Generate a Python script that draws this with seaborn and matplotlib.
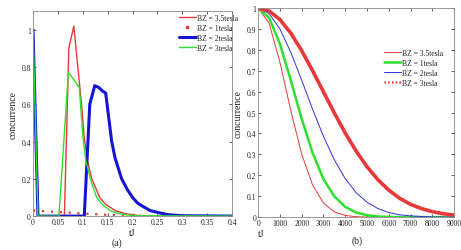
import numpy as np
import pandas as pd
import matplotlib
matplotlib.use("Agg")
import matplotlib.pyplot as plt
from matplotlib.lines import Line2D
import seaborn as sns

# ================================
# data
# ================================

# panel (a)
t_a_35 = [0, 0.01, 0.063, 0.072, 0.082, 0.09, 0.0975, 0.103, 0.109, 0.118, 0.134, 0.145, 0.165, 0.185, 0.21, 0.23, 0.4]
c_a_35 = [1.0, 0, 0, 0.9, 1.02, 0.8, 0.6, 0.42, 0.3, 0.2, 0.1, 0.065, 0.03, 0.013, 0.004, 0, 0]

t_a_1 = [0, 0.05, 0.1, 0.15, 0.2, 0.25, 0.4]
c_a_1 = [0.03, 0.022, 0.014, 0.007, 0.002, 0, 0]

t_a_2 = [0, 0.01, 0.103, 0.114, 0.124, 0.132, 0.14, 0.146, 0.152, 0.158, 0.165, 0.178, 0.19, 0.2, 0.21, 0.222, 0.235, 0.25, 0.27, 0.3, 0.4]
c_a_2 = [1.0, 0, 0, 0.6, 0.7, 0.69, 0.67, 0.66, 0.53, 0.4, 0.31, 0.2, 0.14, 0.1, 0.07, 0.05, 0.03, 0.02, 0.008, 0.002, 0]

t_a_3 = [0, 0.01, 0.052, 0.071, 0.08, 0.093, 0.1, 0.106, 0.115, 0.128, 0.14, 0.155, 0.17, 0.19, 0.21, 0.4]
c_a_3 = [1.0, 0, 0, 0.77, 0.74, 0.69, 0.43, 0.3, 0.2, 0.1, 0.06, 0.03, 0.015, 0.006, 0.002, 0]

# panel (b)
t_b = [0, 500, 1000, 1500, 2000, 2500, 3000, 3500, 4000, 4500, 5000, 5500, 6000, 6500, 7000, 7500, 8000, 8500, 9000]
c_b_35 = [1.0, 0.928, 0.741, 0.509, 0.301, 0.153, 0.067, 0.025, 0.008, 0.002, 0.0005, 0, 0, 0, 0, 0, 0, 0, 0]
c_b_1 = [1.0, 0.954, 0.828, 0.654, 0.470, 0.307, 0.182, 0.099, 0.049, 0.022, 0.009, 0.003, 0.001, 0, 0, 0, 0, 0, 0]
c_b_2 = [1.0, 0.974, 0.900, 0.788, 0.655, 0.516, 0.386, 0.274, 0.184, 0.117, 0.071, 0.041, 0.022, 0.011, 0.006, 0.003, 0.001, 0, 0]
c_b_3 = [1.0, 0.986, 0.945, 0.880, 0.796, 0.700, 0.599, 0.498, 0.402, 0.316, 0.241, 0.179, 0.129, 0.090, 0.061, 0.041, 0.026, 0.016, 0.010]

labels = ["BZ = 3.5tesla", "BZ = 1tesla", "BZ = 2tesla", "BZ = 3tesla"]

RED = "#e8383a"
GREEN = "#2ee02e"
BLUE = "#1414d2"

sns.set_style("ticks")
plt.rcParams["font.family"] = ["Liberation Serif", "DejaVu Serif"]

fig = plt.figure(figsize=(4.61, 2.51), dpi=100)
ax1 = fig.add_axes([0.0716, 0.135, 0.432, 0.817])
ax2 = fig.add_axes([0.560, 0.131, 0.425, 0.833])

# ---- panel (a)
sns.lineplot(x=t_a_35, y=c_a_35, ax=ax1, color=RED, lw=1.0, label=labels[0])
sns.lineplot(x=t_a_1, y=c_a_1, ax=ax1, color=RED, lw=1.6, ls=(0, (1, 3)), label=labels[1])
sns.lineplot(x=t_a_2, y=c_a_2, ax=ax1, color=BLUE, lw=2.2, label=labels[2])
sns.lineplot(x=t_a_3, y=c_a_3, ax=ax1, color=GREEN, lw=1.0, label=labels[3])

ax1.set_xlim(0, 0.4)
ax1.set_ylim(0, 1.1)
ax1.set_xticks(np.arange(0, 0.401, 0.05))
ax1.set_xticklabels(["0", "0.05", "0.1", "0.15", "0.2", "0.25", "0.3", "0.35", "0.4"])
ax1.set_yticks([0, 0.2, 0.4, 0.6, 0.8, 1.0])
ax1.set_yticklabels(["0", "0.2", "0.4", "0.6", "0.8", "1"])
ax1.set_xlabel("tJ", fontsize=7, labelpad=1)
ax1.set_ylabel("concurrence", fontsize=7, labelpad=3)

# the 1 tesla entry shows as a single dot
h1, l1 = ax1.get_legend_handles_labels()
h1[1] = Line2D([], [], color=RED, marker="o", ms=1.6, ls="none")
ax1.legend(h1, l1, loc="upper left", bbox_to_anchor=(179 / 461, 1 - 15 / 251), bbox_transform=fig.transFigure,
           frameon=False, fontsize=5.5, handlelength=2.2, handletextpad=0.1, labelspacing=0.25,
           borderpad=0, borderaxespad=0, numpoints=1)

# ---- panel (b)
sns.lineplot(x=t_b, y=c_b_35, ax=ax2, color=RED, lw=0.7, label=labels[0])
sns.lineplot(x=t_b, y=c_b_1, ax=ax2, color=GREEN, lw=1.8, label=labels[1])
sns.lineplot(x=t_b, y=c_b_2, ax=ax2, color="#3030d8", lw=0.7, label=labels[2])
sns.lineplot(x=t_b, y=c_b_3, ax=ax2, color=RED, lw=2.6, label=labels[3])

ax2.set_xlim(0, 9000)
ax2.set_ylim(0, 1)
ax2.set_xticks(np.arange(0, 9001, 1000))
ax2.set_yticks(np.arange(0, 1.01, 0.1))
ax2.set_yticklabels(["0", "0.1", "0.2", "0.3", "0.4", "0.5", "0.6", "0.7", "0.8", "0.9", "1"])
ax2.set_xlabel("tJ", fontsize=7, labelpad=1, loc="left")
ax2.set_ylabel("concurrence", fontsize=7, labelpad=3)
leg2 = ax2.legend(loc="upper left", bbox_to_anchor=(384 / 461, 1 - 50 / 251), bbox_transform=fig.transFigure,
                  frameon=False, fontsize=5.5, handlelength=2.2, handletextpad=0.1, labelspacing=0.25,
                  borderpad=0, borderaxespad=0)
# the 3 tesla legend entry is drawn dotted
leg2.get_lines()[3].set_dashes((0.6, 0.9))
leg2.get_lines()[3].set_linewidth(1.8)

for ax in (ax1, ax2):
    ax.tick_params(direction="in", top=True, right=True, labelsize=5.5, length=2, width=0.5,
                   pad=1.5, colors="#222222")
    for s in ax.spines.values():
        s.set_linewidth(0.6)
        s.set_color("#888888")

fig.text(117 / 461, 1 - 243 / 251, "(a)", fontsize=7, ha="center", va="center")
fig.text(357 / 461, 1 - 241 / 251, "(b)", fontsize=7, ha="center", va="center")

fig.savefig("out.png", dpi=100)
